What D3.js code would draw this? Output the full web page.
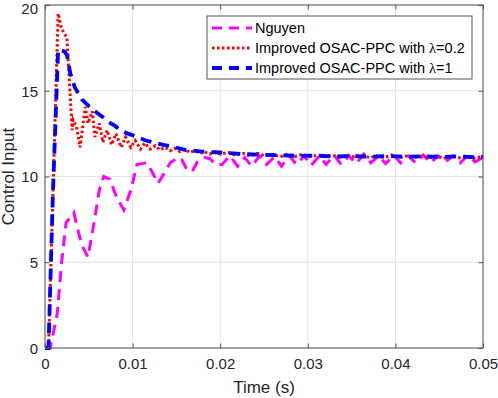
<!DOCTYPE html>
<html>
<head>
<meta charset="utf-8">
<script src="https://cdn.jsdelivr.net/npm/d3@7"></script>
<style>
    body { margin: 0; background: #fff; }
    text { font-family: "Liberation Sans", Arial, sans-serif; }
</style>
</head>
<body>
<div id="chart-div"></div>
<script>
// data
const nguyenTime = [0, 0.0006, 0.0014, 0.0019, 0.0024, 0.0033, 0.0036, 0.0042, 0.0049, 0.0056, 0.0062, 0.0067, 0.0074,
    0.0082, 0.0090, 0.0098, 0.0105, 0.0116, 0.0123, 0.0129, 0.0135, 0.0143, 0.0152, 0.0156, 0.0162, 0.0168, 0.0174,
    0.0182, 0.0188, 0.0195, 0.0202, 0.0211, 0.0220, 0.0228, 0.0236, 0.0245, 0.0253, 0.0262, 0.0270, 0.0279, 0.0287,
    0.0296, 0.0304, 0.0313, 0.0321, 0.0330, 0.0338, 0.0347, 0.0355, 0.0364, 0.0372, 0.0381, 0.0389, 0.0398, 0.0406,
    0.0415, 0.0423, 0.0432, 0.0440, 0.0449, 0.0457, 0.0466, 0.0474, 0.0483, 0.0491, 0.0500];
const nguyenU = [0, 0, 2.0, 5.0, 7.3, 7.9, 7.2, 6.0, 5.3, 7.3, 9.2, 10.0, 9.85,
    8.75, 8.05, 9.2, 10.7, 10.8, 10.2, 9.6, 10.1, 10.8, 11.1, 11.0, 10.4, 10.3, 10.85,
    11.1, 11.05, 10.7, 10.7, 11.2, 10.6, 11.1, 10.6, 11.2, 10.7, 11.15, 10.6, 11.2, 10.7,
    11.2, 10.65, 11.2, 10.7, 11.25, 10.7, 11.2, 10.75, 11.3, 10.8, 11.2, 10.75, 11.25, 10.8,
    11.2, 10.8, 11.25, 10.8, 11.2, 10.85, 11.2, 10.8, 11.25, 10.85, 11.1];

const lam02Time = [0, 0.0004, 0.0015, 0.0019, 0.0025, 0.0031, 0.0032, 0.0036, 0.0040, 0.0046, 0.0049, 0.0054, 0.0057,
    0.0062, 0.0066, 0.0071, 0.0076, 0.0081, 0.0087, 0.0092, 0.0098, 0.0103, 0.0109, 0.0114, 0.0120, 0.0126, 0.0131,
    0.0137, 0.0143, 0.0148, 0.0154, 0.0160, 0.0165, 0.0171, 0.0177, 0.0182, 0.0188, 0.0194, 0.0200, 0.0209, 0.0217,
    0.0226, 0.0234, 0.0243, 0.0251, 0.0260, 0.0268, 0.0277, 0.0285, 0.0294, 0.0302, 0.0311, 0.0319, 0.0328, 0.0336,
    0.0345, 0.0353, 0.0362, 0.0370, 0.0379, 0.0387, 0.0396, 0.0404, 0.0413, 0.0421, 0.0430, 0.0438, 0.0447, 0.0455,
    0.0464, 0.0472, 0.0481, 0.0489, 0.0498, 0.0500];
const lam02U = [0, 0, 19.5, 18.6, 18.1, 12.7, 13.3, 12.9, 11.7, 14.05, 13.1, 13.8, 12.3,
    13.1, 12.0, 12.7, 11.85, 12.5, 11.7, 12.3, 11.7, 12.1, 11.6, 11.95, 11.6, 11.8, 11.55,
    11.7, 11.5, 11.65, 11.45, 11.6, 11.4, 11.5, 11.35, 11.45, 11.3, 11.45, 11.3, 11.4, 11.25,
    11.35, 11.2, 11.35, 11.2, 11.3, 11.15, 11.3, 11.15, 11.3, 11.15, 11.25, 11.15, 11.25, 11.1,
    11.25, 11.15, 11.25, 11.1, 11.2, 11.1, 11.25, 11.1, 11.2, 11.1, 11.2, 11.1, 11.2, 11.05,
    11.2, 11.1, 11.15, 11.05, 11.15, 11.1];

const lam1Time = [0, 0.0004, 0.0009, 0.0015, 0.0022, 0.0025, 0.0029, 0.0034, 0.0042, 0.0050, 0.0057, 0.0065, 0.0072,
    0.0080, 0.0086, 0.0095, 0.0105, 0.0115, 0.0123, 0.0135, 0.0145, 0.0160, 0.0180, 0.0200, 0.0230, 0.0260, 0.0290,
    0.0310, 0.0330, 0.0350, 0.0370, 0.0390, 0.0410, 0.0430, 0.0450, 0.0470, 0.0490, 0.0500];
const lam1U = [0, 0, 9.0, 17.4, 17.3, 17.1, 16.0, 15.2, 14.5, 14.1, 13.8, 13.5, 13.2,
    12.95, 12.7, 12.5, 12.3, 12.1, 12.0, 11.85, 11.75, 11.55, 11.45, 11.4, 11.3, 11.25, 11.2,
    11.22, 11.16, 11.2, 11.15, 11.2, 11.15, 11.18, 11.14, 11.17, 11.13, 11.15];

const xTicks = [0, 0.01, 0.02, 0.03, 0.04, 0.05];
const yTicks = [0, 5, 10, 15, 20];
const seriesNames = ["Nguyen", "Improved OSAC-PPC with ", "Improved OSAC-PPC with "];
const seriesLambda = ["", "=0.2", "=1"];

class ControlPlot {
    constructor() {
        this.margin = { top: 5, right: 15, bottom: 50, left: 45 };
        this.width = 498 - this.margin.left - this.margin.right;
        this.height = 398 - this.margin.top - this.margin.bottom;

        this.svg = d3.select("#chart-div")
            .append("svg")
            .attr("width", 498)
            .attr("height", 398)
            .append("g")
            .attr("transform", "translate(" + this.margin.left + "," + this.margin.top + ")");

        this.x = d3.scaleLinear().domain([0, 0.05]).range([0, this.width]);
        this.y = d3.scaleLinear().domain([0, 20]).range([this.height, 0]);

        this.series = [
            { t: nguyenTime, u: nguyenU, color: "#ff00ff", width: 3, dash: "11,7" },
            { t: lam02Time, u: lam02U, color: "#ff0000", width: 3, dash: "2.5,2.5" },
            { t: lam1Time, u: lam1U, color: "#0000ff", width: 3.8, dash: "11,7" }
        ];

        this.drawGrid();
        this.drawLines();
        this.drawAxes();
        this.drawLegend();
    }

    // light grid behind everything
    drawGrid() {
        this.svg.append("g")
            .selectAll("line.vgrid")
            .data(xTicks)
            .join("line")
            .attr("x1", d => this.x(d)).attr("x2", d => this.x(d))
            .attr("y1", 0).attr("y2", this.height)
            .attr("stroke", "#e3e3e3");

        this.svg.append("g")
            .selectAll("line.hgrid")
            .data(yTicks)
            .join("line")
            .attr("y1", d => this.y(d)).attr("y2", d => this.y(d))
            .attr("x1", 0).attr("x2", this.width)
            .attr("stroke", "#e3e3e3");
    }

    drawLines() {
        let line = d3.line()
            .x(d => this.x(d[0]))
            .y(d => this.y(d[1]));

        this.svg.append("g")
            .selectAll("path")
            .data(this.series)
            .join("path")
            .attr("d", s => line(s.t.map((t, i) => [t, s.u[i]])))
            .attr("fill", "none")
            .attr("stroke", s => s.color)
            .attr("stroke-width", s => s.width)
            .attr("stroke-dasharray", s => s.dash);
    }

    // box axes with inward ticks like matlab
    drawAxes() {
        let tickLen = 4.5;
        let fmt = d => d === 0 ? "0" : d3.format(".2f")(d).replace(/0$/, "");

        this.svg.append("g")
            .attr("transform", "translate(0," + this.height + ")")
            .call(d3.axisBottom(this.x).tickValues(xTicks).tickSizeInner(-tickLen).tickSizeOuter(0).tickPadding(10).tickFormat(fmt))
            .call(g => g.select(".domain").remove());

        this.svg.append("g")
            .call(d3.axisTop(this.x).tickValues(xTicks).tickSizeInner(-tickLen).tickSizeOuter(0).tickFormat(""))
            .call(g => g.select(".domain").remove());

        let left = this.svg.append("g")
            .call(d3.axisLeft(this.y).tickValues(yTicks).tickSizeInner(-tickLen).tickSizeOuter(0).tickPadding(7))
            .call(g => g.select(".domain").remove());
        // top label pushed down a bit so it stays on the page
        left.selectAll(".tick text").attr("dy", d => d === 20 ? "8.8px" : "0.35em");

        this.svg.append("g")
            .attr("transform", "translate(" + this.width + ",0)")
            .call(d3.axisRight(this.y).tickValues(yTicks).tickSizeInner(-tickLen).tickSizeOuter(0).tickFormat(""))
            .call(g => g.select(".domain").remove());

        this.svg.selectAll(".tick line").attr("stroke", "#555");
        this.svg.selectAll(".tick text")
            .style("font-size", "15px")
            .style("font-family", "'Liberation Sans', Arial, sans-serif")
            .attr("fill", "#262626");

        this.svg.append("rect")
            .attr("width", this.width)
            .attr("height", this.height)
            .attr("fill", "none")
            .attr("stroke", "#555");

        // axis labels
        this.svg.append("text")
            .attr("text-anchor", "middle")
            .style("font-size", "17px")
            .attr("fill", "#262626")
            .attr("x", this.width / 2)
            .attr("y", this.height + 45)
            .text("Time (s)");

        this.svg.append("text")
            .attr("text-anchor", "middle")
            .style("font-size", "17px")
            .attr("fill", "#262626")
            .attr("transform", "rotate(-90)")
            .attr("x", -this.height / 2)
            .attr("y", -31)
            .text("Control Input");
    }

    drawLegend() {
        let lg = this.svg.append("g")
            .attr("transform", "translate(" + (207 - this.margin.left) + "," + (16 - this.margin.top) + ")");

        lg.append("rect")
            .attr("width", 265)
            .attr("height", 63)
            .attr("fill", "#fff")
            .attr("stroke", "#555");

        let rows = lg.selectAll("g.row")
            .data(this.series)
            .join("g")
            .attr("transform", (d, i) => "translate(0," + (12 + i * 20) + ")");

        rows.append("line")
            .attr("x1", 5).attr("x2", 45)
            .attr("stroke", s => s.color)
            .attr("stroke-width", s => s.width)
            .attr("stroke-dasharray", (s, i) => i == 1 ? "2.5,2.5" : "10,7");

        let label = rows.append("text")
            .attr("x", 48)
            .attr("y", 5)
            .style("font-size", "14.5px")
            .attr("fill", "#000");

        label.append("tspan").text((d, i) => seriesNames[i]);
        label.filter((d, i) => i > 0)
            .append("tspan")
            .style("font-family", "'Liberation Serif', serif")
            .text("\u03bb");
        label.filter((d, i) => i > 0)
            .append("tspan")
            .text((d, i) => seriesLambda[i + 1]);
    }
}

new ControlPlot();
</script>
</body>
</html>
